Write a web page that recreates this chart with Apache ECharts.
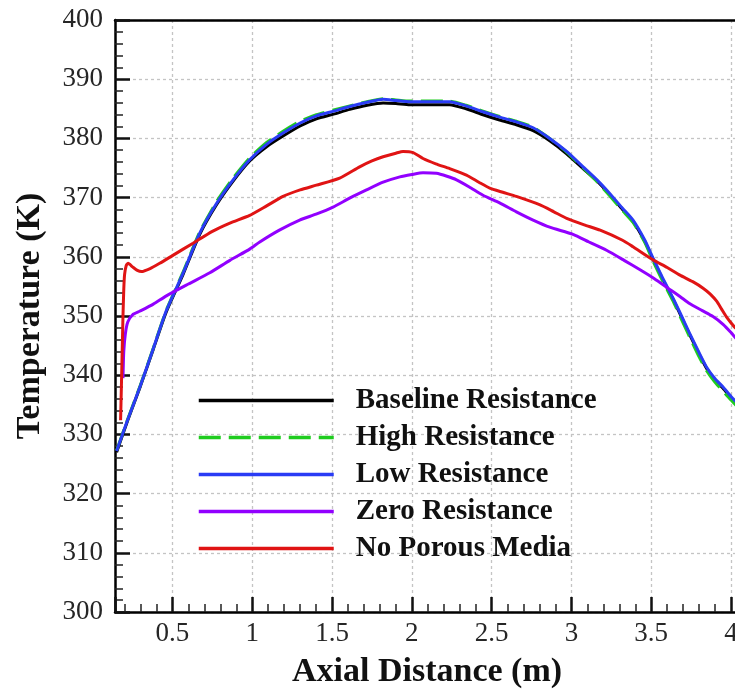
<!DOCTYPE html>
<html>
<head>
<meta charset="utf-8">
<title>Axial temperature profiles</title>
<script src="https://cdn.jsdelivr.net/npm/echarts@6/dist/echarts.min.js"></script>
<style>
  html, body { margin: 0; padding: 0; background: #ffffff; }
  #chart { width: 735px; height: 689px; }
</style>
</head>
<body>
<div id="chart"></div>
<script>
// Axial distance (m) vs. temperature (K) for each porous-media configuration
const seriesNames = ['Baseline Resistance', 'High Resistance', 'Low Resistance', 'Zero Resistance', 'No Porous Media'];

const baselineResistance = [
  [0.15, 327.0], [0.22, 332.4], [0.30, 338.2], [0.38, 344.4], [0.46, 350.6], [0.566, 357.0],
  [0.671, 363.8], [0.776, 368.8], [0.88, 372.8], [0.984, 376.2], [1.09, 378.6], [1.193, 380.4],
  [1.30, 382.1], [1.402, 383.3], [1.51, 384.1], [1.611, 384.9], [1.72, 385.6], [1.82, 386.0],
  [1.90, 385.9], [1.987, 385.7], [2.10, 385.7], [2.237, 385.7], [2.34, 385.0], [2.446, 384.0],
  [2.55, 383.1], [2.655, 382.3], [2.76, 381.3], [2.864, 379.6], [2.97, 377.4], [3.073, 374.9],
  [3.16, 372.8], [3.24, 370.5], [3.32, 368.0], [3.386, 366.0], [3.46, 362.6], [3.511, 359.6],
  [3.57, 356.3], [3.637, 352.8], [3.69, 349.8], [3.74, 346.9], [3.80, 343.6], [3.846, 341.2],
  [3.90, 339.2], [3.95, 337.8], [4.00, 336.2], [4.05, 334.8]
];

const highResistance = [
  [0.15, 327.3], [0.22, 332.6], [0.30, 338.4], [0.38, 344.6], [0.46, 350.9], [0.566, 357.4],
  [0.671, 364.2], [0.776, 369.3], [0.88, 373.3], [0.984, 376.7], [1.09, 379.3], [1.193, 381.2],
  [1.30, 382.9], [1.402, 384.0], [1.51, 384.8], [1.611, 385.5], [1.72, 386.2], [1.82, 386.7],
  [1.90, 386.5], [1.987, 386.3], [2.10, 386.3], [2.237, 386.3], [2.34, 385.6], [2.446, 384.6],
  [2.55, 383.7], [2.655, 382.9], [2.76, 381.9], [2.864, 380.0], [2.97, 377.7], [3.073, 375.0],
  [3.16, 372.7], [3.24, 370.3], [3.32, 367.8], [3.386, 365.8], [3.46, 362.4], [3.511, 359.3],
  [3.57, 356.0], [3.637, 352.5], [3.69, 349.4], [3.74, 346.5], [3.80, 343.1], [3.846, 340.8],
  [3.90, 338.8], [3.95, 337.3], [4.00, 335.8], [4.05, 334.4]
];

const lowResistance = [
  [0.15, 327.2], [0.22, 332.5], [0.30, 338.3], [0.38, 344.5], [0.46, 350.8], [0.566, 357.2],
  [0.671, 364.0], [0.776, 369.0], [0.88, 373.0], [0.984, 376.4], [1.09, 379.0], [1.193, 380.9],
  [1.30, 382.6], [1.402, 383.8], [1.51, 384.6], [1.611, 385.4], [1.72, 386.1], [1.82, 386.6],
  [1.90, 386.4], [1.987, 386.2], [2.10, 386.2], [2.237, 386.2], [2.34, 385.5], [2.446, 384.5],
  [2.55, 383.6], [2.655, 382.8], [2.76, 381.8], [2.864, 380.0], [2.97, 377.8], [3.073, 375.2],
  [3.16, 373.0], [3.24, 370.7], [3.32, 368.2], [3.386, 366.2], [3.46, 362.8], [3.511, 359.8],
  [3.57, 356.5], [3.637, 353.0], [3.69, 350.0], [3.74, 347.1], [3.80, 343.8], [3.846, 341.4],
  [3.90, 339.4], [3.95, 338.0], [4.00, 336.4], [4.05, 335.0]
];

const zeroResistance = [
  [0.19, 339.5], [0.195, 344.0], [0.205, 347.0], [0.22, 349.0], [0.25, 350.2], [0.295, 350.8],
  [0.38, 352.0], [0.462, 353.4], [0.60, 355.4], [0.734, 357.3], [0.86, 359.4], [0.984, 361.3],
  [1.047, 362.5], [1.17, 364.5], [1.297, 366.2], [1.40, 367.2], [1.506, 368.4], [1.61, 369.9],
  [1.716, 371.3], [1.82, 372.6], [1.925, 373.5], [2.00, 373.9], [2.07, 374.2], [2.154, 374.1],
  [2.22, 373.6], [2.28, 373.0], [2.36, 371.8], [2.446, 370.4], [2.55, 369.1], [2.655, 367.6],
  [2.76, 366.2], [2.864, 365.0], [3.01, 363.8], [3.11, 362.5], [3.22, 361.1], [3.33, 359.4],
  [3.43, 357.8], [3.52, 356.3], [3.605, 354.7], [3.68, 353.3], [3.74, 352.1], [3.82, 350.9],
  [3.887, 349.9], [3.95, 348.6], [4.00, 347.2], [4.05, 345.6]
];

const noPorousMedia = [
  [0.175, 332.4], [0.18, 338.0], [0.185, 344.0], [0.19, 350.0], [0.195, 354.5], [0.20, 357.0],
  [0.21, 358.5], [0.222, 358.9], [0.25, 358.3], [0.28, 357.7], [0.306, 357.5], [0.36, 358.0],
  [0.42, 358.9], [0.50, 360.2], [0.629, 362.3], [0.75, 364.3], [0.86, 365.7], [0.984, 367.0],
  [1.09, 368.6], [1.193, 370.2], [1.30, 371.3], [1.402, 372.1], [1.548, 373.3], [1.673, 375.2],
  [1.75, 376.2], [1.82, 376.9], [1.90, 377.5], [1.945, 377.8], [2.008, 377.6], [2.07, 376.6],
  [2.15, 375.7], [2.237, 374.9], [2.342, 373.8], [2.42, 372.6], [2.488, 371.6], [2.57, 370.9],
  [2.655, 370.2], [2.80, 368.8], [2.89, 367.6], [2.97, 366.5], [3.08, 365.4], [3.18, 364.5],
  [3.32, 362.8], [3.386, 361.7], [3.511, 359.5], [3.60, 358.2], [3.68, 356.9], [3.76, 355.8],
  [3.825, 354.7], [3.87, 353.7], [3.91, 352.5], [3.94, 351.2], [3.97, 349.9], [4.02, 348.2],
  [4.05, 347.4]
];

const xRange = [0.14, 4.05];
const yRange = [300, 400];
const yStep = 10;

const seriesData = [baselineResistance, highResistance, lowResistance, zeroResistance, noPorousMedia];
const seriesColors = ['#000000', '#1fcc1f', '#2a3cf5', '#9200ff', '#e01414'];
const seriesDash = ['solid', [22, 8], 'solid', 'solid', 'solid'];

const serif = '"Liberation Serif", "Times New Roman", serif';

const chart = echarts.init(document.getElementById('chart'), null, { renderer: 'canvas' });

const tickLabel = { fontFamily: serif, fontSize: 27, color: '#262626' };

chart.setOption({
  backgroundColor: '#ffffff',
  animation: false,
  grid: { left: 115, right: -4, top: 20, bottom: 77, containLabel: false, outerBoundsMode: 'none' },
  legend: {
    orient: 'vertical',
    left: 197,
    top: 386,
    padding: 0,
    itemWidth: 135,
    itemHeight: 20,
    itemGap: 8,
    data: seriesNames,
    itemStyle: { opacity: 0 },
    lineStyle: { width: 3.5 },
    textStyle: {
      fontFamily: serif, fontSize: 29, fontWeight: 'bold', color: '#111111',
      lineHeight: 29, padding: [0, 0, 0, 17]
    }
  },
  xAxis: [
    {
      type: 'value',
      min: xRange[0],
      max: xRange[1],
      minInterval: 0.5,
      maxInterval: 0.5,
      position: 'bottom',
      name: 'Axial Distance (m)',
      nameLocation: 'middle',
      nameGap: 43,
      nameTextStyle: { fontFamily: serif, fontSize: 34, fontWeight: 'bold', color: '#111111' },
      axisLine: { show: true, onZero: false, lineStyle: { color: '#000', width: 2.5 } },
      axisTick: { show: true, inside: true, length: 15, lineStyle: { color: '#111', width: 2.5 } },
      minorTick: { show: true, splitNumber: 5, length: 8, lineStyle: { color: '#222', width: 1.5 } },
      axisLabel: {
        ...tickLabel,
        margin: 8,
        showMinLabel: false,
        showMaxLabel: false,
        formatter: v => (Math.abs(v * 2 - Math.round(v * 2)) < 1e-6 ? String(v) : '')
      },
      splitLine: { show: true, lineStyle: { color: '#c4c4c4', width: 1.3, type: [3, 3] } }
    },
    {
      type: 'value',
      min: xRange[0],
      max: xRange[1],
      position: 'top',
      axisLine: { show: true, onZero: false, lineStyle: { color: '#000', width: 2.5 } },
      axisTick: { show: false },
      axisLabel: { show: false },
      splitLine: { show: false }
    }
  ],
  yAxis: {
    type: 'value',
    min: yRange[0],
    max: yRange[1],
    interval: yStep,
    name: 'Temperature (K)',
    nameLocation: 'middle',
    nameGap: 68,
    nameTextStyle: { fontFamily: serif, fontSize: 34, fontWeight: 'bold', color: '#111111' },
    axisLine: { show: true, onZero: false, lineStyle: { color: '#000', width: 2.5 } },
    axisTick: { show: true, inside: true, length: 15, lineStyle: { color: '#111', width: 2.5 } },
    minorTick: { show: true, splitNumber: 5, length: 8, lineStyle: { color: '#222', width: 1.5 } },
    axisLabel: { ...tickLabel, margin: 12 },
    splitLine: { show: true, lineStyle: { color: '#c4c4c4', width: 1.3, type: [3, 3] } }
  },
  series: seriesNames.map((name, i) => ({
    name,
    type: 'line',
    xAxisIndex: 0,
    data: seriesData[i],
    showSymbol: false,
    symbol: 'none',
    smooth: 0.2,
    clip: true,
    z: 2 + i,
    lineStyle: { color: seriesColors[i], width: 3, type: seriesDash[i] },
    itemStyle: { color: seriesColors[i] }
  }))
});
</script>
</body>
</html>
